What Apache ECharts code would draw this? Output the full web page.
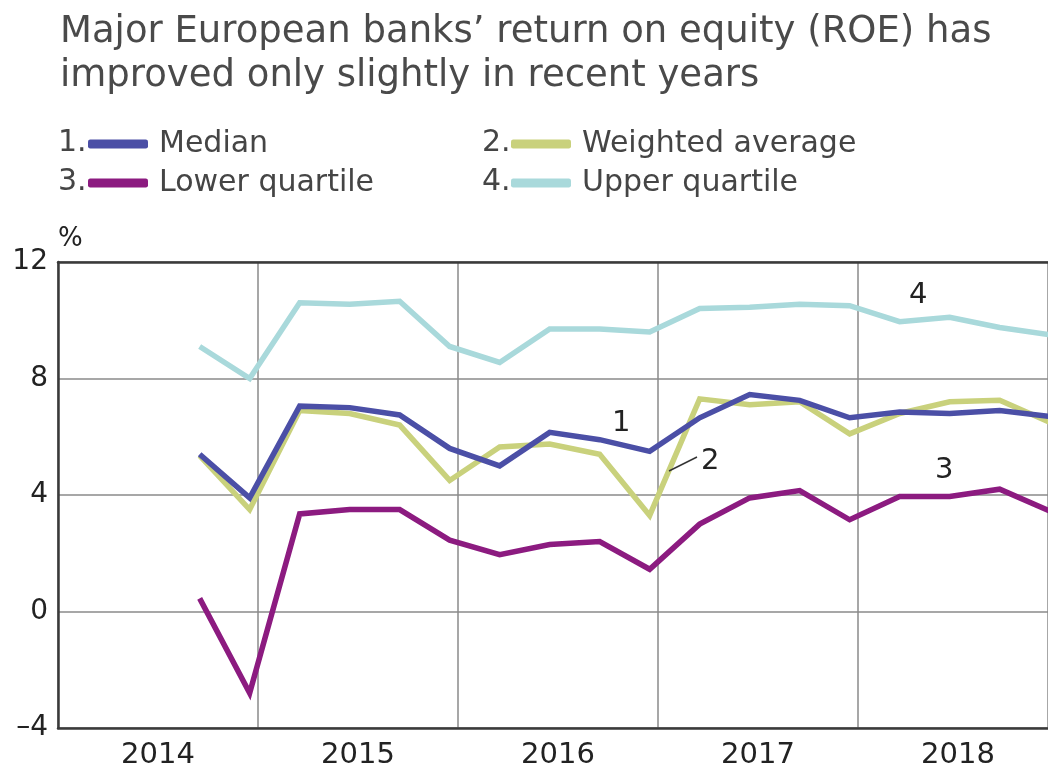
<!DOCTYPE html>
<html>
<head>
<meta charset="utf-8">
<script src="https://cdn.jsdelivr.net/npm/echarts@6/dist/echarts.min.js"></script>
<style>
  html, body { margin: 0; padding: 0; background: #fff; }
  #main { width: 1048px; height: 778px; }
</style>
</head>
<body>
<div id="main"></div>
<script>
    // quarterly observations, 2014 Q3 - 2018 Q4
    var quarters = ['2014Q3', '2014Q4',
        '2015Q1', '2015Q2', '2015Q3', '2015Q4',
        '2016Q1', '2016Q2', '2016Q3', '2016Q4',
        '2017Q1', '2017Q2', '2017Q3', '2017Q4',
        '2018Q1', '2018Q2', '2018Q3', '2018Q4'];
    var median = [5.4, 3.9, 7.05, 7.0, 6.75, 5.6, 5.0, 6.15, 5.9, 5.5, 6.65, 7.45, 7.25, 6.65, 6.85, 6.8, 6.9, 6.7];
    var weighted = [5.35, 3.5, 6.9, 6.8, 6.4, 4.5, 5.65, 5.75, 5.4, 3.3, 7.3, 7.1, 7.2, 6.1, 6.8, 7.2, 7.25, 6.5];
    var lowerQ = [0.45, -2.8, 3.35, 3.5, 3.5, 2.45, 1.95, 2.3, 2.4, 1.45, 3.0, 3.9, 4.15, 3.15, 3.95, 3.95, 4.2, 3.45];
    var upperQ = [9.1, 8.0, 10.6, 10.55, 10.65, 9.1, 8.55, 9.7, 9.7, 9.6, 10.4, 10.45, 10.55, 10.5, 9.95, 10.1, 9.75, 9.5];
    var yTicks = [-4, 0, 4, 8, 12];
    var years = [2014, 2015, 2016, 2017, 2018];

    var FONT = 'DejaVu Sans';
    var names = ['Median', 'Weighted average', 'Lower quartile', 'Upper quartile'];
    var colors = ['#4b4fa6', '#c9d17c', '#8c1b80', '#a9d9db'];

    // the picture is cropped just before the end of 2018
    var X_MIN = 2014, X_MAX = 2018.95;

    // a quarter sits in the middle of its last month
    function qx(q) {
        var y = parseInt(q.substring(0, 4), 10);
        var n = parseInt(q.substring(5), 10);
        return y + (n * 3 - 0.5) / 12;
    }
    function pairs(vals) {
        return quarters.map(function (q, i) { return [qx(q), vals[i]]; });
    }

    var myChart = echarts.init(document.getElementById('main'));

    function mkSeries(i, vals) {
        return {
            name: names[i],
            type: 'line',
            data: pairs(vals),
            symbol: 'none',
            clip: true,
            color: colors[i],
            lineStyle: { color: colors[i], width: 5.5, join: 'miter' }
        };
    }

    function mkLegend(i, left, top) {
        return {
            data: [{ name: names[i], icon: 'roundRect' }],
            left: left, top: top,
            itemWidth: 60, itemHeight: 9,
            textStyle: { fontFamily: FONT, fontSize: 30, color: '#454545', padding: [0, 0, 0, 6] },
            selectedMode: false
        };
    }

    var txt = function (s, x, y, size, fill) {
        return { type: 'text', x: x, y: y, z: 10,
            style: { text: s, font: size + 'px "DejaVu Sans"', fill: fill, align: 'left', verticalAlign: 'middle' } };
    };

    var option = {
        animation: false,
        backgroundColor: '#fff',
        title: {
            text: 'Major European banks\u2019 return on equity (ROE) has\nimproved only slightly in recent years',
            left: 55, top: 5,
            textStyle: { fontFamily: FONT, fontSize: 37, fontWeight: 'normal', color: '#4a4a4a', lineHeight: 44 }
        },
        legend: [
            mkLegend(0, 83, 124),
            mkLegend(1, 506, 124),
            mkLegend(2, 83, 163),
            mkLegend(3, 506, 163)
        ],
        grid: {
            left: 58, right: 0, top: 262, bottom: 50,
            outerBoundsMode: 'none'
        },
        xAxis: [{
            type: 'value', min: X_MIN, max: X_MAX, interval: 1,
            axisLine: { show: true, onZero: false, lineStyle: { color: '#3a3a3a', width: 2.5 } },
            axisTick: { show: false },
            axisLabel: { show: false },
            splitLine: { show: true, lineStyle: { color: '#8a8a8a', width: 1.5 } }
        }, {
            type: 'value', min: X_MIN, max: X_MAX, interval: 0.5,
            position: 'bottom',
            axisLine: { show: false, onZero: false },
            axisTick: { show: false },
            splitLine: { show: false },
            axisLabel: {
                fontFamily: FONT, fontSize: 29, color: '#222', margin: 13,
                formatter: function (v) {
                    var y = Math.floor(v);
                    return (Math.abs(v - y - 0.5) < 1e-6 && years.indexOf(y) >= 0) ? String(y) : '';
                }
            }
        }, {
            // top frame line
            type: 'value', min: X_MIN, max: X_MAX, position: 'top',
            axisLine: { show: true, onZero: false, lineStyle: { color: '#3a3a3a', width: 2.5 } },
            axisTick: { show: false },
            axisLabel: { show: false },
            splitLine: { show: false }
        }],
        yAxis: {
            type: 'value', min: yTicks[0], max: yTicks[yTicks.length - 1], interval: 4,
            name: '%', nameLocation: 'end', nameGap: 10,
            nameTextStyle: { fontFamily: FONT, fontSize: 26, color: '#222', align: 'left' },
            axisLine: { show: true, lineStyle: { color: '#3a3a3a', width: 2.5 } },
            axisTick: { show: false },
            axisLabel: {
                fontFamily: FONT, fontSize: 28, color: '#222', margin: 10,
                formatter: function (v) { return v < 0 ? '\u2013' + Math.abs(v) : String(v); }
            },
            splitLine: { show: true, lineStyle: { color: '#8a8a8a', width: 1.5 } }
        },
        graphic: [
            txt('1.', 58, 143, 30, '#454545'),
            txt('2.', 482, 143, 30, '#454545'),
            txt('3.', 58, 182, 30, '#454545'),
            txt('4.', 482, 182, 30, '#454545'),
            // series tags on the plot
            txt('1', 612, 423, 29, '#222'),
            txt('2', 701, 461, 29, '#222'),
            txt('3', 935, 470, 29, '#222'),
            txt('4', 909, 295, 29, '#222'),
            { type: 'line', z: 10, shape: { x1: 669, y1: 471, x2: 697, y2: 457 }, style: { stroke: '#333', lineWidth: 1.5 } }
        ],
        series: [
            mkSeries(2, lowerQ),
            mkSeries(3, upperQ),
            mkSeries(1, weighted),
            mkSeries(0, median)
        ]
    };
    myChart.setOption(option);
</script>
</body>
</html>
